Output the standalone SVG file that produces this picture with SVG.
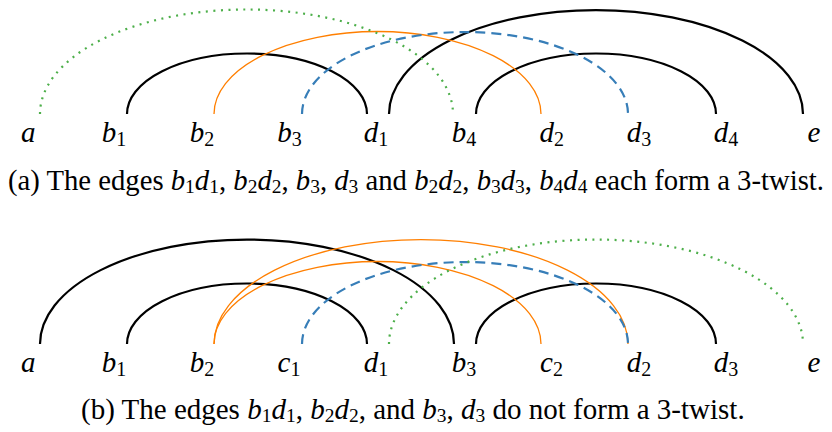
<svg xmlns="http://www.w3.org/2000/svg" width="832" height="432" viewBox="0 0 832 432">
<rect width="832" height="432" fill="#fff"/>
<g id="connectors" fill="none">
<g stroke="#000" stroke-width="2.2">
<path d="M127,114 A120,60.5 0 0 1 367,114"/>
<path d="M389,114 A207,104 0 0 1 803,114"/>
<path d="M476,114 A120,60.5 0 0 1 716,114"/>
<path d="M40,344 A207,104.5 0 0 1 454,344"/>
<path d="M127,344 A120,60.5 0 0 1 367,344"/>
<path d="M476,344 A120,60.5 0 0 1 716,344"/>
</g>
<g stroke="#ff7f00" stroke-width="1.3">
<path d="M214,114 A163.5,82.5 0 0 1 541,114"/>
<path d="M214,344 A163.5,82.5 0 0 1 541,344"/>
<path d="M214,344 A207,104.5 0 0 1 628,344"/>
</g>
<g stroke="#377eb8" stroke-width="2.2" stroke-dasharray="10 6">
<path d="M302,114 A163,82 0 0 1 628,114"/>
<path d="M302,344 A163,82 0 0 1 628,344"/>
</g>
<g stroke="#4daf4a" stroke-width="2.2" stroke-dasharray="2 5.5">
<path d="M40,114 A206.5,104.5 0 0 1 453,114"/>
<path d="M389,344 A207,104.5 0 0 1 803,344"/>
</g>
</g>
<g id="top-nodes" font-size="29" font-style="italic" text-anchor="middle" fill="#000">
<g id="ta"><text font-family="Liberation Serif" x="28.3" y="142">a</text></g>
<g id="tb1"><text font-family="Liberation Serif" x="114" y="142">b<tspan font-style="normal" font-size="20" dy="4">1</tspan></text></g>
<g id="tb2"><text font-family="Liberation Serif" x="202" y="142">b<tspan font-style="normal" font-size="20" dy="4">2</tspan></text></g>
<g id="tb3"><text font-family="Liberation Serif" x="289.5" y="142">b<tspan font-style="normal" font-size="20" dy="4">3</tspan></text></g>
<g id="td1"><text font-family="Liberation Serif" x="376" y="142">d<tspan font-style="normal" font-size="20" dy="4">1</tspan></text></g>
<g id="tb4"><text font-family="Liberation Serif" x="464" y="142">b<tspan font-style="normal" font-size="20" dy="4">4</tspan></text></g>
<g id="td2"><text font-family="Liberation Serif" x="551.7" y="142">d<tspan font-style="normal" font-size="20" dy="4">2</tspan></text></g>
<g id="td3"><text font-family="Liberation Serif" x="639" y="142">d<tspan font-style="normal" font-size="20" dy="4">3</tspan></text></g>
<g id="td4"><text font-family="Liberation Serif" x="726" y="142">d<tspan font-style="normal" font-size="20" dy="4">4</tspan></text></g>
<g id="te"><text font-family="Liberation Serif" x="814" y="142">e</text></g>
</g>
<g id="bottom-nodes" font-size="29" font-style="italic" text-anchor="middle" fill="#000">
<g id="ba"><text font-family="Liberation Serif" x="28.3" y="372">a</text></g>
<g id="bb1"><text font-family="Liberation Serif" x="114" y="372">b<tspan font-style="normal" font-size="20" dy="4">1</tspan></text></g>
<g id="bb2"><text font-family="Liberation Serif" x="202" y="372">b<tspan font-style="normal" font-size="20" dy="4">2</tspan></text></g>
<g id="bc1"><text font-family="Liberation Serif" x="289" y="372">c<tspan font-style="normal" font-size="20" dy="4">1</tspan></text></g>
<g id="bd1"><text font-family="Liberation Serif" x="376" y="372">d<tspan font-style="normal" font-size="20" dy="4">1</tspan></text></g>
<g id="bb3"><text font-family="Liberation Serif" x="464" y="372">b<tspan font-style="normal" font-size="20" dy="4">3</tspan></text></g>
<g id="bc2"><text font-family="Liberation Serif" x="551.5" y="372">c<tspan font-style="normal" font-size="20" dy="4">2</tspan></text></g>
<g id="bd2"><text font-family="Liberation Serif" x="639" y="372">d<tspan font-style="normal" font-size="20" dy="4">2</tspan></text></g>
<g id="bd3"><text font-family="Liberation Serif" x="726" y="372">d<tspan font-style="normal" font-size="20" dy="4">3</tspan></text></g>
<g id="be"><text font-family="Liberation Serif" x="814" y="372">e</text></g>
</g>
<g id="captions" fill="#000">
<text font-family="Liberation Serif" font-size="28.7" x="8" y="190">(a) The edges <tspan font-style="italic">b</tspan><tspan font-size="19.5" dy="3">1</tspan><tspan font-style="italic" dy="-3">d</tspan><tspan font-size="19.5" dy="3">1</tspan><tspan dy="-3">, </tspan><tspan font-style="italic">b</tspan><tspan font-size="19.5" dy="3">2</tspan><tspan font-style="italic" dy="-3">d</tspan><tspan font-size="19.5" dy="3">2</tspan><tspan dy="-3">, </tspan><tspan font-style="italic">b</tspan><tspan font-size="19.5" dy="3">3</tspan><tspan dy="-3">, </tspan><tspan font-style="italic">d</tspan><tspan font-size="19.5" dy="3">3</tspan><tspan dy="-3"> and </tspan><tspan font-style="italic">b</tspan><tspan font-size="19.5" dy="3">2</tspan><tspan font-style="italic" dy="-3">d</tspan><tspan font-size="19.5" dy="3">2</tspan><tspan dy="-3">, </tspan><tspan font-style="italic">b</tspan><tspan font-size="19.5" dy="3">3</tspan><tspan font-style="italic" dy="-3">d</tspan><tspan font-size="19.5" dy="3">3</tspan><tspan dy="-3">, </tspan><tspan font-style="italic">b</tspan><tspan font-size="19.5" dy="3">4</tspan><tspan font-style="italic" dy="-3">d</tspan><tspan font-size="19.5" dy="3">4</tspan><tspan dy="-3"> each form a 3-twist.</tspan></text>
<text font-family="Liberation Serif" font-size="29" x="81" y="419">(b) The edges <tspan font-style="italic">b</tspan><tspan font-size="19.5" dy="3">1</tspan><tspan font-style="italic" dy="-3">d</tspan><tspan font-size="19.5" dy="3">1</tspan><tspan dy="-3">, </tspan><tspan font-style="italic">b</tspan><tspan font-size="19.5" dy="3">2</tspan><tspan font-style="italic" dy="-3">d</tspan><tspan font-size="19.5" dy="3">2</tspan><tspan dy="-3">, and </tspan><tspan font-style="italic">b</tspan><tspan font-size="19.5" dy="3">3</tspan><tspan dy="-3">, </tspan><tspan font-style="italic">d</tspan><tspan font-size="19.5" dy="3">3</tspan><tspan dy="-3"> do not form a 3-twist.</tspan></text>
</g>
</svg>
